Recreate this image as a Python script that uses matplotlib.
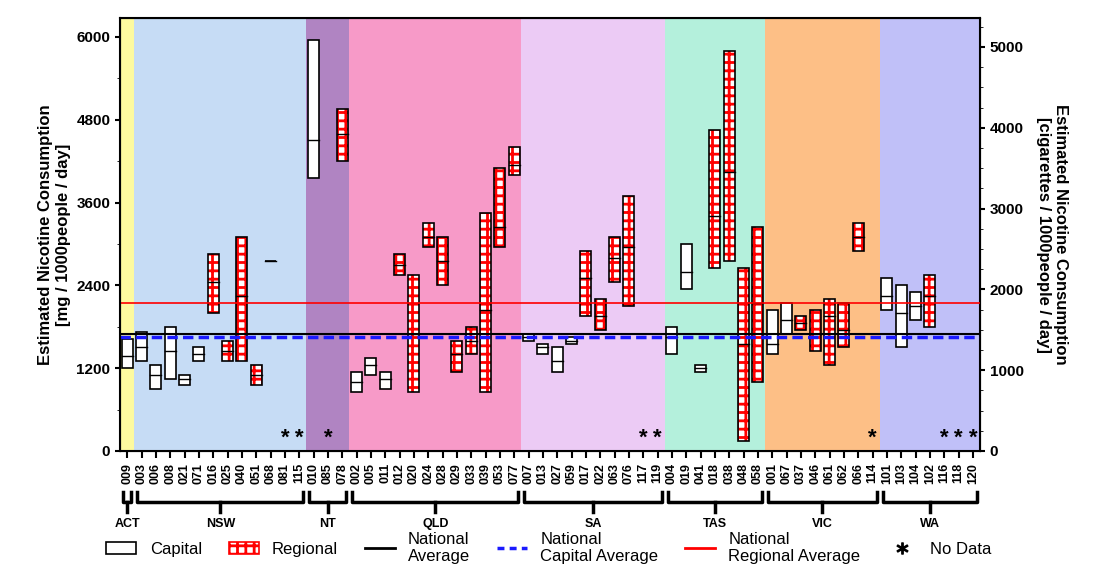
import numpy as np
import matplotlib.pyplot as plt
import matplotlib.transforms as mtransforms
from matplotlib.patches import Rectangle
from matplotlib.lines import Line2D

plt.rcParams['font.family'] = ['Liberation Sans', 'DejaVu Sans']
plt.rcParams['hatch.linewidth'] = 2.0

states = ['ACT', 'NSW', 'NT', 'QLD', 'SA', 'TAS', 'VIC', 'WA']
state_colors = ['#fdfa9f', '#c6dcf5', '#b084c2', '#f79ac8', '#eccbf5', '#b4f0dc', '#fdbf86', '#c0c0f8']
sites = [
    ['009'],
    ['003', '006', '008', '021', '071', '016', '025', '040', '051', '068', '081', '115'],
    ['010', '085', '078'],
    ['002', '005', '011', '012', '020', '024', '028', '029', '033', '039', '053', '077'],
    ['007', '013', '027', '059', '017', '022', '063', '076', '117', '119'],
    ['004', '019', '041', '018', '038', '048', '058'],
    ['001', '067', '037', '046', '061', '062', '066', '114'],
    ['101', '103', '104', '102', '116', '118', '120'],
]
# type: C capital, R regional, N no data
kinds = [
    'C',
    'CCCCCRRRRCNN',
    'CNR',
    'CCCRRRRRRRRR',
    'CCCCRRRRNN',
    'CCCRRRR',
    'CCRRRRRN',
    'CCCRNNN',
]
lows = [
    [1200],
    [1300, 900, 1050, 950, 1300, 2000, 1300, 1300, 950, 2750, 0, 0],
    [3950, 0, 4200],
    [850, 1100, 900, 2550, 850, 2950, 2400, 1150, 1400, 850, 2950, 4000],
    [1600, 1400, 1150, 1550, 1950, 1750, 2450, 2100, 0, 0],
    [1400, 2350, 1150, 2650, 2750, 150, 1000],
    [1400, 1700, 1750, 1450, 1250, 1500, 2900, 0],
    [2050, 1500, 1900, 1800, 0, 0, 0],
]
highs = [
    [1620],
    [1720, 1250, 1800, 1100, 1500, 2850, 1600, 3100, 1250, 2750, 0, 0],
    [5950, 0, 4950],
    [1150, 1350, 1150, 2850, 2550, 3300, 3100, 1600, 1800, 3450, 4100, 4400],
    [1700, 1550, 1500, 1650, 2900, 2200, 3100, 3700, 0, 0],
    [1800, 3000, 1250, 4650, 5800, 2650, 3250],
    [2050, 2150, 1950, 2050, 2200, 2150, 3300, 0],
    [2500, 2400, 2300, 2550, 0, 0, 0],
]
medians = [
    [1380],
    [1500, 1100, 1450, 1050, 1400, 2450, 1450, 2250, 1100, 2750, 0, 0],
    [4500, 0, 4600],
    [1000, 1250, 1050, 2700, 1700, 3100, 2750, 1400, 1600, 2050, 3250, 4150],
    [1650, 1500, 1300, 1600, 2500, 1950, 2800, 2950, 0, 0],
    [1650, 2600, 1200, 3400, 4050, 1550, 2150],
    [1550, 1900, 1850, 1700, 1950, 1750, 3100, 0],
    [2250, 2000, 2100, 2250, 0, 0, 0],
]
national_avg = 1700
capital_avg = 1650
regional_avg = 2150
mg_per_cig = 1.171

fig = plt.figure(figsize=(10.98, 5.68), dpi=100)
ax = fig.add_axes([120 / 1098, 1 - 451 / 568, 860 / 1098, 433 / 568])
ax.set_ylim(0, 6275)

labels = []
x = 0
groups = []
w = 0.38
for si, st in enumerate(states):
    start = x
    for k in range(len(sites[si])):
        lab = sites[si][k]
        labels.append(lab)
        kind = kinds[si][k]
        lo, hi, md = lows[si][k], highs[si][k], medians[si][k]
        if kind == 'N':
            ax.text(x, 40, '*', ha='center', va='bottom', fontsize=16, fontweight='bold')
        elif kind == 'C':
            ax.add_patch(Rectangle((x - w, lo), 2 * w, hi - lo, facecolor='white',
                                   edgecolor='black', lw=1.2, zorder=3))
            ax.plot([x - w, x + w], [md, md], color='black', lw=1, zorder=4)
        else:
            ax.add_patch(Rectangle((x - w, lo), 2 * w, hi - lo, facecolor='white',
                                   edgecolor='red', hatch='++', lw=0, zorder=3))
            ax.add_patch(Rectangle((x - w, lo), 2 * w, hi - lo, facecolor='none',
                                   edgecolor='black', lw=1.2, zorder=4))
            ax.plot([x - w, x + w], [md, md], color='black', lw=1, zorder=4)
        x += 1
    ax.axvspan(start - 0.5, x - 0.5, color=state_colors[si], zorder=0, lw=0)
    groups.append((start, x - 1, st))

ax.set_xlim(-0.5, x - 0.5)
ax.axhline(national_avg, color='black', lw=1.5, zorder=5)
ax.axhline(capital_avg, color='#1a1aff', lw=2.5, ls=(0, (3, 1.5)), zorder=5)
ax.axhline(regional_avg, color='red', lw=1.2, zorder=5)

ax.set_xticks(range(len(labels)))
ax.set_xticklabels(labels, rotation=90, fontsize=9, fontweight='bold')
ax.set_yticks([0, 1200, 2400, 3600, 4800, 6000])
ax.set_yticks(np.arange(0, 6200, 600), minor=True)
ax.tick_params(axis='y', labelsize=11, width=1.5)
for t in ax.get_yticklabels():
    t.set_fontweight('bold')
ax.tick_params(axis='x', length=5, width=1.5)
for s in ax.spines.values():
    s.set_linewidth(1.5)
ax.set_ylabel('Estimated Nicotine Consumption\n[mg / 1000people / day]', fontsize=12, fontweight='bold')

ax2 = ax.twinx()
ax2.set_ylim(0, 6275 / mg_per_cig)
ax2.set_yticks([0, 1000, 2000, 3000, 4000, 5000])
ax2.set_yticks(np.arange(0, 5300, 250), minor=True)
ax2.tick_params(axis='y', labelsize=11, width=1.5)
for t in ax2.get_yticklabels():
    t.set_fontweight('bold')
ax2.set_ylabel('Estimated Nicotine Consumption\n[cigarettes / 1000people / day]', fontsize=12,
               fontweight='bold', rotation=270, labelpad=32)

# state brackets
tr = mtransforms.blended_transform_factory(ax.transData, fig.transFigure)
yb = 1 - 502 / 568
for a, b, st in groups:
    xa, xb = a - 0.3, b + 0.3
    ax.plot([xa, xa, xb, xb], [yb + 0.018, yb, yb, yb + 0.018], color='black', lw=2.5,
            transform=tr, clip_on=False)
    m = (a + b) / 2
    ax.plot([m, m], [yb, yb - 0.018], color='black', lw=2.5, transform=tr, clip_on=False)
    t = fig.text(0, 1 - 524 / 568, st, transform=tr, ha='center', va='center',
                 fontsize=9, fontweight='bold')
    t.set_x(m)

handles = [
    Rectangle((0, 0), 1, 1, facecolor='white', edgecolor='black', lw=1.2),
    Rectangle((0, 0), 1, 1, facecolor='white', edgecolor='red', hatch='++', lw=1.2),
    Line2D([], [], color='black', lw=2),
    Line2D([], [], color='#1a1aff', lw=2.5, ls=(0, (2, 1.5))),
    Line2D([], [], color='red', lw=2),
    Line2D([], [], marker='$*$', color='black', ls='none', markersize=8),
]
names = ['Capital', 'Regional', 'National\nAverage', 'National\nCapital Average',
         'National\nRegional Average', 'No Data']
fig.legend(handles, names, loc='lower center', ncol=6, frameon=False, fontsize=12,
           bbox_to_anchor=(0.5, -0.02), handlelength=1.8, columnspacing=1.6)

fig.savefig('out.png', dpi=100)
